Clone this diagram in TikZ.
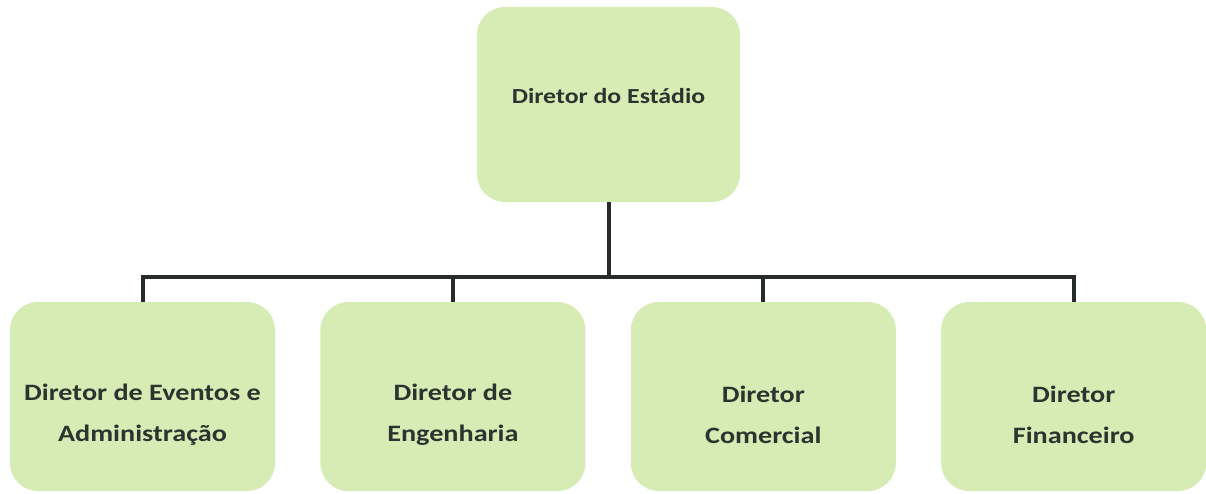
\documentclass[tikz,border=0pt]{standalone}
\usepackage{fontspec}
\setmainfont{Carlito}
\newfontfamily\caixafont[FakeStretch=1.2]{Carlito}
\usetikzlibrary{positioning}
\definecolor{verdecaixa}{RGB}{215,236,181}
\definecolor{textocaixa}{RGB}{44,52,47}
\definecolor{linha}{RGB}{38,44,44}

\begin{document}
\begin{tikzpicture}[x=1pt, y=-1pt,
        caixa/.style={fill=verdecaixa, rounded corners=28pt, inner sep=0pt,
                      minimum width=265pt, minimum height=189pt},
        rotulo/.style={text=textocaixa, align=center,
                       font=\caixafont\fontsize{23.5}{41}\selectfont\bfseries},
        ligacao/.style={draw=linha, line width=4pt},
        node distance=45pt]
            \useasboundingbox[fill=white] (0,0) rectangle (1206,493);
            % caixas
            \node[caixa, minimum width=263pt, minimum height=195pt] (estadio) at (608.5,104.5) {};
            \node[caixa] (eventos) at (142.5,396.5) {};
            \node[caixa, right=of eventos] (engenharia) {};
            \node[caixa, right=of engenharia] (comercial) {};
            \node[caixa, right=of comercial] (financeiro) {};
            \coordinate (barra) at (608.5,277);
            % textos
            \node[rotulo, font=\caixafont\fontsize{21.5}{36}\selectfont\bfseries] (t0)
                at ([yshift=8pt]estadio.center) {Diretor do Estádio};
            \node[rotulo] (t1) at ([yshift=-18pt]eventos.center) {Diretor de Eventos e\\Administração};
            \node[rotulo] (t2) at ([yshift=-18pt]engenharia.center) {Diretor de\\Engenharia};
            \node[rotulo] (t3) at ([yshift=-18pt]comercial.center) {Diretor\\Comercial};
            \node[rotulo] (t4) at ([yshift=-18pt]financeiro.center) {Diretor\\Financeiro};
            % ligacoes
            \foreach \d in {eventos, engenharia, comercial, financeiro}
                \draw[ligacao] (estadio.south) -- (estadio.south |- barra) -| (\d.north);
\end{tikzpicture}
\end{document}
